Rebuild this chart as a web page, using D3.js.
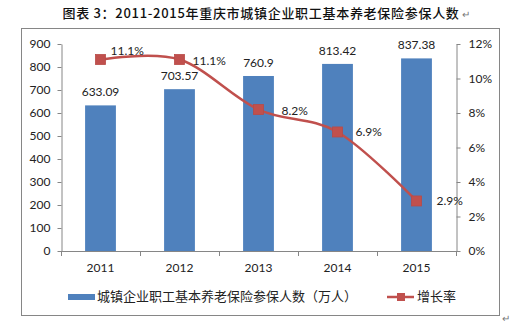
<!DOCTYPE html>
<html><head><meta charset="utf-8">
<script src="https://cdn.jsdelivr.net/npm/d3@7"></script>
<style>
html,body{margin:0;padding:0;background:#fff;}
svg{display:block;}
text{font-family:Lato,"Noto Sans CJK SC",sans-serif;}
</style></head>
<body>
<svg id="c" width="519" height="325"></svg>
<script>
const title = "图表 3：2011-2015年重庆市城镇企业职工基本养老保险参保人数";
const years = ["2011","2012","2013","2014","2015"];
const insured = [633.09, 703.57, 760.9, 813.42, 837.38];
const growth = [0.111, 0.111, 0.082, 0.069, 0.029];
const leftTicks = [0,100,200,300,400,500,600,700,800,900];
const rightTicks = [0,0.02,0.04,0.06,0.08,0.10,0.12];
const barName = "城镇企业职工基本养老保险参保人数（万人）";
const lineName = "增长率";

const svg = d3.select("#c");
const L = 61, R = 456, T = 44, B = 251;
const blue = "#4F81BD", red = "#C0504D", axisC = "#868686", txt = "#222";

// frame
svg.append("rect").attr("x",21.5).attr("y",28.5).attr("width",478).attr("height",287)
  .attr("fill","none").attr("stroke",axisC).attr("stroke-width",1);

// title
svg.append("text").attr("x",261).attr("y",18).attr("text-anchor","middle")
  .style("font-family","'Noto Sans CJK SC',sans-serif").style("font-size","13px")
  .style("font-weight","500").style("letter-spacing","0.7px").attr("fill","#111").text(title);
svg.append("text").attr("x",462).attr("y",18).style("font-size","10px").attr("fill","#777").text("↵");
svg.append("text").attr("x",502).attr("y",322).style("font-size","10px").attr("fill","#777").text("↵");

const x = d3.scaleBand().domain(years).range([L,R]).paddingInner(0.61).paddingOuter(0.305);
const yL = d3.scaleLinear().domain([0,900]).range([B,T]);
const yR = d3.scaleLinear().domain([0,0.12]).range([B,T]);

// left axis
const gl = svg.append("g").attr("transform",`translate(${L+0.5},0)`)
  .call(d3.axisLeft(yL).tickValues(leftTicks).tickFormat(d3.format("d")).tickSize(4).tickPadding(7).tickSizeOuter(0));
// right axis
const gr = svg.append("g").attr("transform",`translate(${R+0.5},0)`)
  .call(d3.axisRight(yR).tickValues(rightTicks).tickFormat(d3.format(".0%")).tickSize(4).tickPadding(8).tickSizeOuter(0));
[gl,gr].forEach(g=>{
  g.select(".domain").attr("stroke",axisC);
  g.selectAll(".tick line").attr("stroke",axisC);
  g.selectAll(".tick text").style("font-family","Lato").style("font-size","12px").attr("fill",txt);
});

// bars
svg.append("g").selectAll("rect").data(years).join("rect")
  .attr("x",d=>x(d)).attr("width",x.bandwidth())
  .attr("y",(d,i)=>yL(insured[i])).attr("height",(d,i)=>B-yL(insured[i]))
  .attr("fill",blue);

// bottom axis
const ga = svg.append("g");
ga.append("line").attr("x1",L).attr("x2",R+4).attr("y1",B+0.5).attr("y2",B+0.5).attr("stroke",axisC);
const bounds = d3.range(years.length+1).map(i=>L + i*x.step());
ga.selectAll(".bt").data(bounds).join("line").attr("class","bt")
  .attr("x1",d=>Math.round(d)+0.5).attr("x2",d=>Math.round(d)+0.5).attr("y1",B).attr("y2",B+5).attr("stroke",axisC);
ga.selectAll(".yl").data(years).join("text").attr("class","yl")
  .attr("x",d=>x(d)+x.bandwidth()/2).attr("y",272).attr("text-anchor","middle")
  .style("font-size","12px").attr("fill",txt).text(d=>d);

// bar labels
svg.append("g").selectAll("text").data(years).join("text")
  .attr("x",d=>x(d)+x.bandwidth()/2).attr("y",(d,i)=>yL(insured[i])-9)
  .attr("text-anchor","middle").style("font-size","12px").attr("fill",txt)
  .text((d,i)=>insured[i]);

// line
const pts = years.map((d,i)=>[x(d)+x.bandwidth()/2, yR(growth[i])]);
svg.append("path").attr("d",d3.line().curve(d3.curveCardinal.tension(0))(pts))
  .attr("fill","none").attr("stroke",red).attr("stroke-width",2.5);
svg.append("g").selectAll("rect").data(pts).join("rect")
  .attr("x",d=>d[0]-5).attr("y",d=>d[1]-5).attr("width",10).attr("height",10)
  .attr("fill",red).attr("stroke","#B84A47").attr("stroke-width",0.8);

// line labels (layout offsets)
const lblDx = [10, 13, 23, 18, 20];
const lblDy = [-8.5, 1, 1, 0, 0];
svg.append("g").selectAll("text").data(pts).join("text")
  .attr("x",(d,i)=>d[0]+lblDx[i]).attr("y",(d,i)=>d[1]+lblDy[i]).attr("dy","0.36em")
  .style("font-size","12px").attr("fill",txt)
  .text((d,i)=>d3.format(".1%")(growth[i]));

// legend
const lg = svg.append("g");
lg.append("rect").attr("x",68).attr("y",294).attr("width",27).attr("height",6).attr("fill",blue);
lg.append("text").attr("x",97).attr("y",296).attr("dy","0.36em")
  .style("font-family","'Noto Sans CJK SC',sans-serif").style("font-size","13px").attr("fill",txt).text(barName);
lg.append("line").attr("x1",387).attr("x2",414).attr("y1",297).attr("y2",297).attr("stroke",red).attr("stroke-width",2.5);
lg.append("rect").attr("x",397).attr("y",293).attr("width",8).attr("height",8).attr("fill",red);
lg.append("text").attr("x",417).attr("y",296).attr("dy","0.36em")
  .style("font-family","'Noto Sans CJK SC',sans-serif").style("font-size","13px").attr("fill",txt).text(lineName);
</script>
</body></html>
